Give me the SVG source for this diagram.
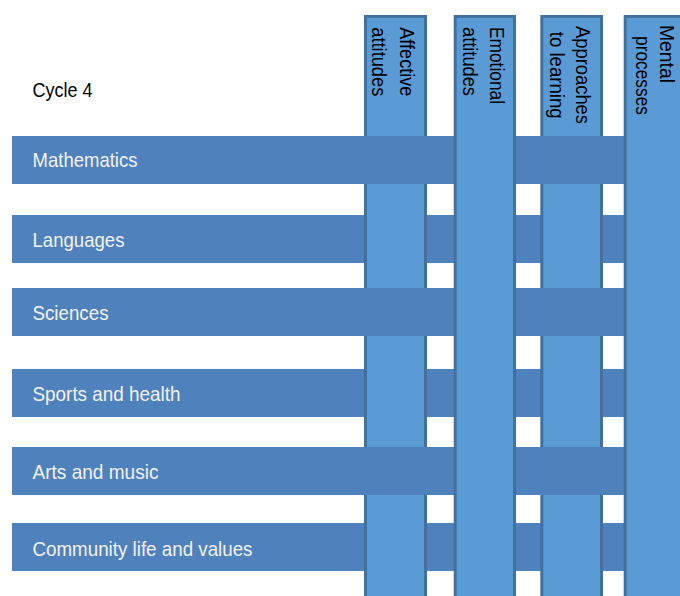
<svg xmlns="http://www.w3.org/2000/svg" width="680" height="596" viewBox="0 0 680 596">
<style>
.row{fill:#4f81bd;}
.col{fill:#5b9bd5;stroke:#41719c;stroke-width:3;}
.rl{font-family:"Liberation Sans",Arial,sans-serif;font-size:21px;fill:#f2f2f2;}
.cl{font-family:"Liberation Sans",Arial,sans-serif;font-size:21px;fill:#000;}
</style>
<rect width="680" height="596" fill="#fff"/>
<text id="title" class="cl" x="32.5" y="97" textLength="60" lengthAdjust="spacingAndGlyphs">Cycle 4</text>

<g id="row-languages"><rect class="row" x="12" y="215" width="630" height="48"/><text class="rl" x="32.5" y="247" textLength="92" lengthAdjust="spacingAndGlyphs">Languages</text></g>
<g id="row-sports"><rect class="row" x="12" y="369" width="630" height="48"/><text class="rl" x="32.5" y="401" textLength="148" lengthAdjust="spacingAndGlyphs">Sports and health</text></g>
<g id="row-community"><rect class="row" x="12" y="523" width="630" height="48"/><text class="rl" x="32.5" y="556" textLength="220" lengthAdjust="spacingAndGlyphs">Community life and values</text></g>

<g id="col-affective"><rect class="col" x="365.5" y="16.5" width="60" height="600"/>
<text class="cl" transform="translate(400,27.3) rotate(90)" textLength="69" lengthAdjust="spacingAndGlyphs">Affective</text>
<text class="cl" transform="translate(372.3,27.3) rotate(90)" textLength="69" lengthAdjust="spacingAndGlyphs">attitudes</text></g>
<g id="col-approaches"><rect class="col" x="541.8" y="16.5" width="59.7" height="600"/>
<text class="cl" transform="translate(575.5,26) rotate(90)" textLength="98" lengthAdjust="spacingAndGlyphs">Approaches</text>
<text class="cl" transform="translate(549.5,31.7) rotate(90)" textLength="87" lengthAdjust="spacingAndGlyphs">to learning</text></g>

<g id="row-mathematics"><rect class="row" x="12" y="136" width="630" height="48"/><text class="rl" x="32.5" y="167" textLength="105" lengthAdjust="spacingAndGlyphs">Mathematics</text></g>
<g id="row-sciences"><rect class="row" x="12" y="288" width="630" height="48"/><text class="rl" x="32.5" y="320" textLength="76" lengthAdjust="spacingAndGlyphs">Sciences</text></g>
<g id="row-arts"><rect class="row" x="12" y="447" width="630" height="48"/><text class="rl" x="32.5" y="479" textLength="126" lengthAdjust="spacingAndGlyphs">Arts and music</text></g>

<g id="col-emotional"><rect class="col" x="455.2" y="16.5" width="59.3" height="600"/>
<text class="cl" transform="translate(490,27) rotate(90)" textLength="77" lengthAdjust="spacingAndGlyphs">Emotional</text>
<text class="cl" transform="translate(463.3,27) rotate(90)" textLength="69" lengthAdjust="spacingAndGlyphs">attitudes</text></g>
<g id="col-mental"><rect class="col" x="625.2" y="16.5" width="70" height="600"/>
<text class="cl" transform="translate(660,25) rotate(90)" textLength="58" lengthAdjust="spacingAndGlyphs">Mental</text>
<text class="cl" transform="translate(635.5,36) rotate(90)" textLength="79" lengthAdjust="spacingAndGlyphs">processes</text></g>
<g id="connectors"/>
</svg>
